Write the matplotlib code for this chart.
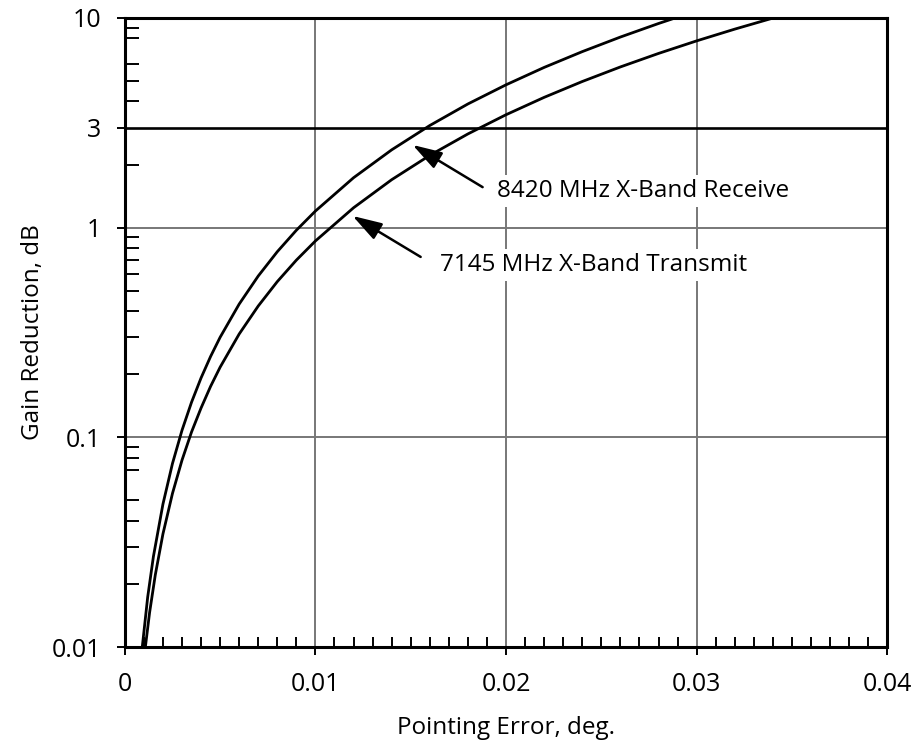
import numpy as np
import matplotlib
matplotlib.use("Agg")
import matplotlib.pyplot as plt
from matplotlib.ticker import FixedLocator, NullFormatter

plt.rcParams['font.family'] = ['Open Sans', 'DejaVu Sans']

# pointing error (deg) vs gain reduction (dB)
rx_x = [0.0009, 0.0012, 0.0015, 0.002, 0.0025, 0.003, 0.0035, 0.004, 0.0045, 0.005,
        0.006, 0.007, 0.008, 0.009, 0.010, 0.012, 0.014, 0.016, 0.018, 0.020,
        0.022, 0.024, 0.026, 0.028, 0.029]
rx_y = [0.0097, 0.0173, 0.027, 0.048, 0.075, 0.108, 0.147, 0.192, 0.243, 0.30,
        0.432, 0.588, 0.768, 0.972, 1.20, 1.73, 2.35, 3.07, 3.89, 4.80,
        5.81, 6.91, 8.11, 9.41, 10.09]

tx_x = [0.00105, 0.0013, 0.0016, 0.002, 0.0025, 0.003, 0.0035, 0.004, 0.0045, 0.005,
        0.006, 0.007, 0.008, 0.009, 0.010, 0.012, 0.014, 0.016, 0.018, 0.020,
        0.022, 0.024, 0.026, 0.028, 0.030, 0.032, 0.034, 0.0342]
tx_y = [0.00953, 0.0146, 0.0221, 0.0346, 0.054, 0.0778, 0.106, 0.138, 0.175, 0.216,
        0.311, 0.423, 0.553, 0.700, 0.864, 1.244, 1.693, 2.212, 2.799, 3.456,
        4.182, 4.977, 5.841, 6.774, 7.776, 8.847, 9.988, 10.1]

y_ticks = [0.01, 0.1, 1, 3, 10]
y_ticklabels = ['0.01', '0.1', '1', '3', '10']
y_minor = [0.02, 0.03, 0.04, 0.05, 0.07, 0.08, 0.09,
           0.2, 0.3, 0.4, 0.5, 0.6, 0.7, 0.8, 0.9,
           2, 4, 5, 6, 8, 9]
x_ticks = [0, 0.01, 0.02, 0.03, 0.04]
x_ticklabels = ['0', '0.01', '0.02', '0.03', '0.04']

# labels: text, arrow head, arrow tail, text anchor
labels = ['8420 MHz X-Band Receive', '7145 MHz X-Band Transmit']
heads = [(0.0151, 2.48), (0.01195, 1.137)]
tails = [(0.01877, 1.56), (0.01552, 0.725)]
anchors = [(0.0195, 1.49), (0.01651, 0.665)]

##############################################################################
fig = plt.figure(figsize=(9.11, 7.48), dpi=100)
ax = fig.add_axes([0.137, 0.135, 0.837, 0.841])

ax.set_yscale('log')
ax.set_xlim(0, 0.04)
ax.set_ylim(0.01, 10)

# grid
for gx in [0.01, 0.02, 0.03]:
    ax.axvline(gx, color='#777777', lw=1.4, zorder=1)
for gy in [0.1, 1]:
    ax.axhline(gy, color='#777777', lw=1.4, zorder=1)
ax.axhline(3, color='black', lw=1.9, zorder=2)

ax.plot(rx_x, rx_y, color='black', lw=2, zorder=3)
ax.plot(tx_x, tx_y, color='black', lw=2, zorder=3)

ax.set_yticks(y_ticks)
ax.set_yticklabels(y_ticklabels)
ax.yaxis.set_minor_locator(FixedLocator(y_minor))
ax.yaxis.set_minor_formatter(NullFormatter())
ax.set_xticks(x_ticks)
ax.set_xticklabels(x_ticklabels)
ax.xaxis.set_minor_locator(FixedLocator(np.arange(0.001, 0.04, 0.001)))

ax.tick_params(which='major', direction='out', length=6, width=1.4,
               labelsize=18, pad=11)
ax.tick_params(axis='x', which='major', pad=12)
ax.tick_params(axis='y', which='minor', direction='in', length=10, width=1.4)
ax.tick_params(axis='x', which='minor', direction='in', length=7, width=1.4)

for s in ax.spines.values():
    s.set_linewidth(2.2)
    s.set_zorder(5)

ax.set_xlabel('Pointing Error, deg.', fontsize=17.5, labelpad=14)
ax.set_ylabel('Gain Reduction, dB', fontsize=17.5, labelpad=5)

box = dict(facecolor='white', edgecolor='none', pad=3)
for lab, hd, tl, an in zip(labels, heads, tails, anchors):
    ax.text(an[0], an[1], lab, fontsize=17.5, va='center', ha='left',
            bbox=box, zorder=4)
    ax.annotate('', xy=hd, xytext=tl, zorder=4,
                arrowprops=dict(arrowstyle='-|>,head_length=0.9,head_width=0.28',
                                color='black', lw=1.8, mutation_scale=20,
                                shrinkA=0, shrinkB=0))

fig.savefig('out.png', dpi=100)
